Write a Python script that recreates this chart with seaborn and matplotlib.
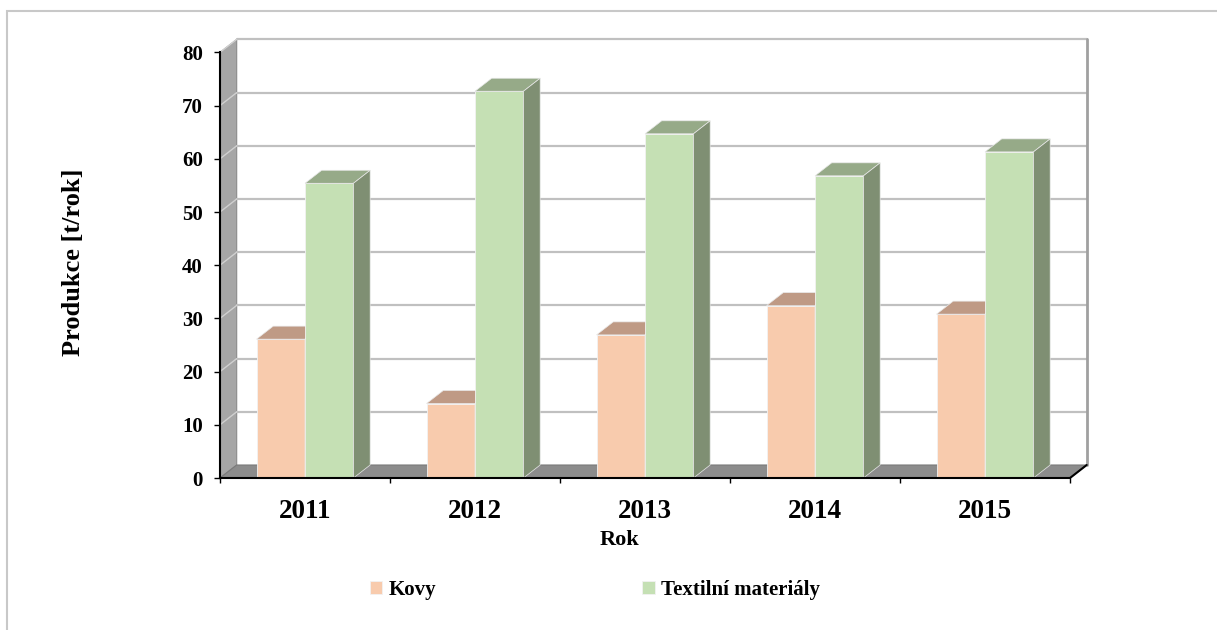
import numpy as np
import pandas as pd
import matplotlib.pyplot as plt
import seaborn as sns
from matplotlib.patches import Polygon, Rectangle
from matplotlib.ticker import FixedLocator

# data
years = ["2011", "2012", "2013", "2014", "2015"]
kovy = [26.1, 14.0, 26.9, 32.4, 30.8]
textil = [55.4, 72.7, 64.7, 56.8, 61.3]
series = ["Kovy", "Textilní materiály"]
yticks = [0, 10, 20, 30, 40, 50, 60, 70, 80]

front_cols = ["#F8CBAD", "#C5E0B4"]
top_cols = ["#BF9A85", "#96AA88"]
side_cols = ["#A3826F", "#7F8F73"]

sns.set_style("ticks")
plt.rcParams["font.family"] = ["Liberation Serif", "DejaVu Serif"]
plt.rcParams["font.weight"] = "bold"
plt.rcParams["text.color"] = "black"
plt.rcParams["axes.labelcolor"] = "black"
plt.rcParams["xtick.labelcolor"] = "black"
plt.rcParams["ytick.labelcolor"] = "black"

df = pd.DataFrame({
    "Rok": years * 2,
    "value": kovy + textil,
    "serie": [series[0]] * len(years) + [series[1]] * len(years),
})

W, H = 1217, 630
fig = plt.figure(figsize=(W / 100, H / 100), dpi=100)
ax = fig.add_axes([220 / W, 152 / H, 850 / W, 425.6 / H])

sns.barplot(data=df, x="Rok", y="value", hue="serie", palette=front_cols,
            saturation=1, width=0.57, linewidth=0.6, edgecolor="#f2f2f2", ax=ax)

# fake 3d depth in data units (about 17 px right, 13 px up)
dx = 16.7 / 850 * 5
dy = 13.0 / 425.6 * 80
x0, x1 = -0.5, 4.5

# side wall, floor, back wall gridlines
ax.add_patch(Polygon([(x0, 0), (x0 + dx, dy), (x0 + dx, 80 + dy), (x0, 80)],
                     fc="#A6A6A6", ec="#8a8a8a", lw=0.8, zorder=0.5, clip_on=False))
ax.add_patch(Polygon([(x0, 0), (x1, 0), (x1 + dx, dy), (x0 + dx, dy)],
                     fc="#8C8C8C", ec="#7a7a7a", lw=0.8, zorder=0.6, clip_on=False))
for v in yticks[1:]:
    ax.plot([x0 + dx, x1 + dx], [v + dy, v + dy], color="#C0C0C0", lw=1.6, zorder=0.7, clip_on=False)
    ax.plot([x0, x0 + dx], [v, v + dy], color="#D0D0D0", lw=1.0, zorder=0.7, clip_on=False)
ax.plot([x1 + dx, x1 + dx], [dy, 80 + dy], color="#A0A0A0", lw=2, zorder=0.7, clip_on=False)
ax.plot([x1, x1 + dx], [0, dy], color="black", lw=1.5, zorder=6, clip_on=False)

# top and side faces of the bars
for i, cont in enumerate(ax.containers):
    for bar in cont:
        bx, bw, bh = bar.get_x(), bar.get_width(), bar.get_height()
        bar.set_zorder(3 + i)
        ax.add_patch(Polygon([(bx, bh), (bx + dx, bh + dy), (bx + bw + dx, bh + dy), (bx + bw, bh)],
                             fc=top_cols[i], ec="#e8e8e8", lw=0.5, zorder=3 + i, clip_on=False))
        ax.add_patch(Polygon([(bx + bw, 0), (bx + bw + dx, dy), (bx + bw + dx, bh + dy), (bx + bw, bh)],
                             fc=side_cols[i], ec="#e8e8e8", lw=0.5, zorder=3 + i, clip_on=False))

ax.set_xlim(x0, x1)
ax.set_ylim(0, 80)
ax.set_yticks(yticks)
ax.xaxis.set_minor_locator(FixedLocator(np.arange(-0.5, 5, 1)))
ax.tick_params(axis="y", direction="out", length=4.3, width=1, pad=8, labelsize=15, color="black")
ax.tick_params(axis="x", which="major", length=0, pad=15, labelsize=19.5)
ax.tick_params(axis="x", which="minor", length=3.6, width=1, direction="out", color="black")

for s in ["top", "right"]:
    ax.spines[s].set_visible(False)
for s in ["left", "bottom"]:
    ax.spines[s].set_color("black")
    ax.spines[s].set_linewidth(1.5)
    ax.spines[s].set_zorder(6)

ax.set_xlabel("Rok", fontsize=16, fontweight="bold")
ax.xaxis.set_label_coords(0.47, -0.122)
ax.set_ylabel("Produkce [t/rok]", fontsize=19, fontweight="bold", va="center")
ax.yaxis.set_label_coords(-0.172, 0.507)

sns.move_legend(ax, "center", bbox_to_anchor=(0.441, -0.263), ncol=2, title=None,
                frameon=False, fontsize=15, handlelength=0.6, handleheight=0.6,
                handletextpad=0.3, columnspacing=9.9)

# light frame of the chart area
fig.add_artist(Rectangle((7 / W, -0.5), 2, 1.5 - 11 / H, transform=fig.transFigure,
                         fill=False, ec="#C8C8C8", lw=1.5))

fig.savefig("out.png", dpi=100)
